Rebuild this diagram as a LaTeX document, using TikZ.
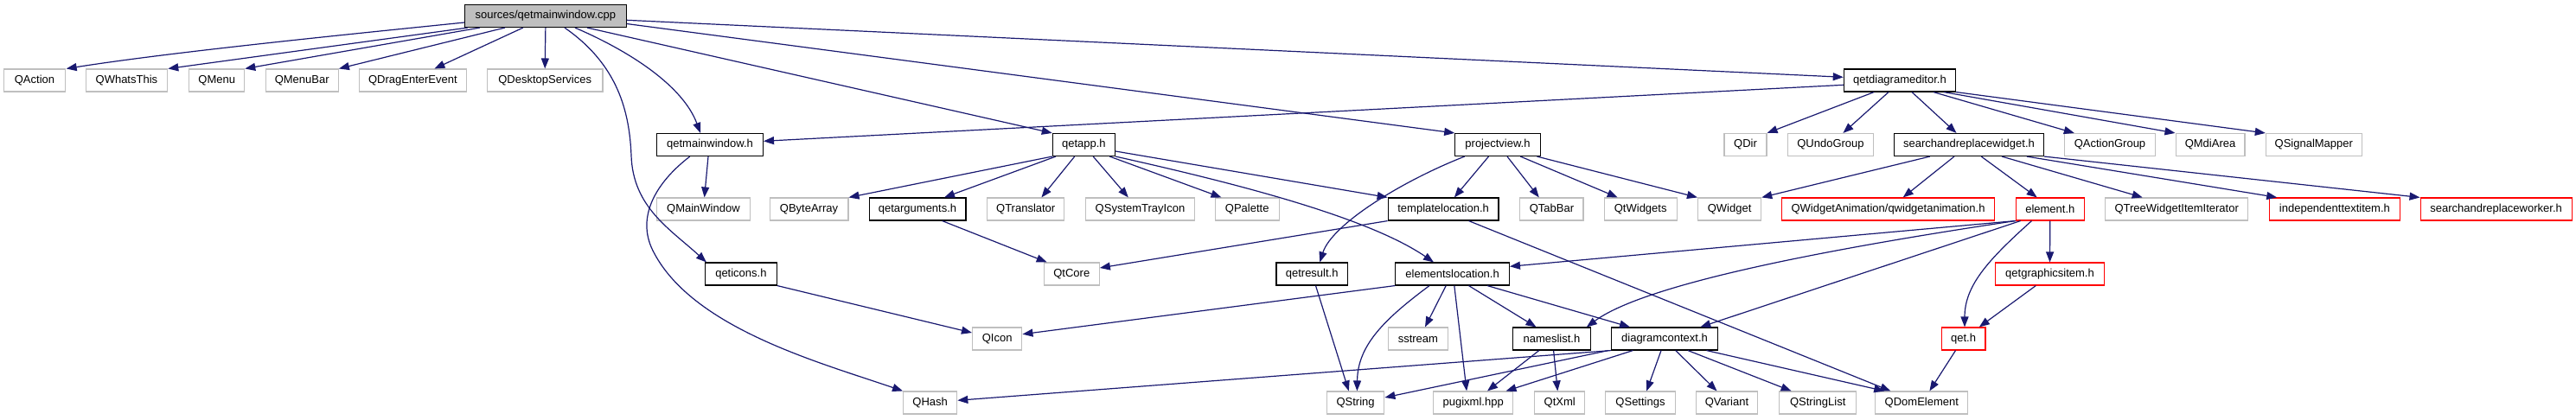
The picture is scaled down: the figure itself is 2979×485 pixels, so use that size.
\documentclass[tikz,border=0pt]{standalone}
\usepackage{fontspec}
\setmainfont{Liberation Sans}
\usetikzlibrary{arrows.meta}
\definecolor{edgec}{HTML}{191970}
\definecolor{grayb}{HTML}{BFBFBF}
\definecolor{redb}{HTML}{FF0000}
\begin{document}
\begin{tikzpicture}[x=1pt,y=-1pt,
  font=\fontsize{13}{15}\selectfont,
  box/.style={draw, line width=1.1pt, inner sep=0pt, minimum height=26pt, anchor=center, fill=white},
  ext/.style={box, draw=grayb},
  doc/.style={box, draw=black},
  trunc/.style={box, draw=redb},
  rootbox/.style={box, draw=black, fill=grayb},
  e/.style={draw=edgec, line width=1.2pt, -{Triangle[length=12pt,width=9pt]}}]
\useasboundingbox (0,0) rectangle (2979,485);
% row 0
\node[rootbox, minimum width=186.6] (root) at (630.9,18.5) {sources/qetmainwindow.cpp};
% row 1
\node[ext, minimum width=70.3] (QAction) at (40,93) {QAction};
\node[ext, minimum width=94.7] (QWhatsThis) at (146.4,93) {QWhatsThis};
\node[ext, minimum width=64.1] (QMenu) at (250.7,93) {QMenu};
\node[ext, minimum width=84.3] (QMenuBar) at (349.2,93) {QMenuBar};
\node[ext, minimum width=124.3] (QDragEnterEvent) at (477.4,93) {QDragEnterEvent};
\node[ext, minimum width=133.5] (QDesktopServices) at (630.2,93) {QDesktopServices};
\node[doc, minimum width=129.2] (qde) at (2196.9,93) {qetdiagrameditor.h};
% row 2
\node[doc, minimum width=123] (qmw) at (821,167.5) {qetmainwindow.h};
\node[doc, minimum width=72.2] (qetapp) at (1253.4,167.5) {qetapp.h};
\node[doc, minimum width=98.5] (pv) at (1732,167.5) {projectview.h};
\node[ext, minimum width=49] (QDir) at (2018.5,167.5) {QDir};
\node[ext, minimum width=98.6] (QUndoGroup) at (2117,167.5) {QUndoGroup};
\node[doc, minimum width=172.7] (sarw) at (2277,167.5) {searchandreplacewidget.h};
\node[ext, minimum width=104.3] (QActionGroup) at (2440,167.5) {QActionGroup};
\node[ext, minimum width=79.9] (QMdiArea) at (2556,167.5) {QMdiArea};
\node[ext, minimum width=110.9] (QSignalMapper) at (2675.8,167.5) {QSignalMapper};
% row 3
\node[ext, minimum width=107.6] (QMainWindow) at (813.4,242) {QMainWindow};
\node[ext, minimum width=90.9] (QByteArray) at (935.5,242) {QByteArray};
\node[doc, minimum width=111.9] (qargs) at (1061,242) {qetarguments.h};
\node[ext, minimum width=89] (QTranslator) at (1186.2,242) {QTranslator};
\node[ext, minimum width=125.8] (QSystemTrayIcon) at (1318.5,242) {QSystemTrayIcon};
\node[ext, minimum width=73.7] (QPalette) at (1442.2,242) {QPalette};
\node[doc, minimum width=127.8] (tl) at (1669.1,242) {templatelocation.h};
\node[ext, minimum width=73.2] (QTabBar) at (1794.4,242) {QTabBar};
\node[ext, minimum width=83.7] (QtWidgets) at (1897.2,242) {QtWidgets};
\node[ext, minimum width=73.2] (QWidget) at (2000.1,242) {QWidget};
\node[trunc, minimum width=245.9] (qwa) at (2183.5,242) {QWidgetAnimation/qwidgetanimation.h};
\node[trunc, minimum width=78.9] (element) at (2370.8,242) {element.h};
\node[ext, minimum width=165] (qtwii) at (2517.2,242) {QTreeWidgetItemIterator};
\node[trunc, minimum width=150.6] (iti) at (2699.9,242) {independenttextitem.h};
\node[trunc, minimum width=175.1] (sarwk) at (2886.6,242) {searchandreplaceworker.h};
% row 4
\node[doc, minimum width=82.8] (qeticons) at (856.9,317) {qeticons.h};
\node[ext, minimum width=64.1] (QtCore) at (1239.3,317) {QtCore};
\node[doc, minimum width=82.4] (qetresult) at (1517.2,317) {qetresult.h};
\node[doc, minimum width=131.6] (el) at (1679.6,317) {elementslocation.h};
\node[trunc, minimum width=125.3] (qgi) at (2370.5,317) {qetgraphicsitem.h};
% row 5
\node[ext, minimum width=57.4] (QIcon) at (1153.2,392) {QIcon};
\node[ext, minimum width=69.4] (sstream) at (1639.9,392) {sstream};
\node[doc, minimum width=89.4] (nl) at (1794.4,392) {nameslist.h};
\node[doc, minimum width=122.9] (dc) at (1925,392) {diagramcontext.h};
\node[trunc, minimum width=50.7] (qet) at (2270.6,392) {qet.h};
% row 6
\node[ext, minimum width=62.2] (QHash) at (1075.7,466) {QHash};
\node[ext, minimum width=66.5] (QString) at (1567.6,466) {QString};
\node[ext, minimum width=91.9] (pugixml) at (1703.7,466) {pugixml.hpp};
\node[ext, minimum width=58.4] (QtXml) at (1803.7,466) {QtXml};
\node[ext, minimum width=80.4] (QSettings) at (1897,466) {QSettings};
\node[ext, minimum width=71.7] (QVariant) at (1997,466) {QVariant};
\node[ext, minimum width=89] (QStringList) at (2102.2,466) {QStringList};
\node[ext, minimum width=107.2] (QDomElement) at (2222.3,466) {QDomElement};

% edges from root
\draw[e] ([yshift=-7.5]root.west) .. controls (400,40) and (200,60) .. ([xshift=1]QAction.north east);
\draw[e] ([xshift=-90]root.south) -- (QWhatsThis.north east);
\draw[e] ([xshift=-76]root.south) -- (QMenu.north east);
\draw[e] ([xshift=-47]root.south) -- (QMenuBar.north east);
\draw[e] ([xshift=-26]root.south) -- ([xshift=25]QDragEnterEvent.north);
\draw[e] (root.south) -- (QDesktopServices.north);
\draw[e] ([xshift=22]root.south) .. controls (715,75) and (728,130) .. (730,180) .. controls (732,240) and (775,265) .. ([xshift=-40]qeticons.north);
\draw[e] ([xshift=34]root.south) .. controls (730,60) and (790,100) .. ([xshift=-11]qmw.north);
\draw[e] ([xshift=48]root.south) -- (qetapp.north west);
\draw[e] ([yshift=-9]root.east) -- (pv.north west);
\draw[e] ([yshift=-4.8]root.east) -- ([yshift=3.7]qde.west);
% qetdiagrameditor.h
\draw[e] ([yshift=-5.3]qde.west) -- ([yshift=4.2]qmw.east);
\draw[e] ([xshift=-29.7]qde.south) -- (QDir.north east);
\draw[e] ([xshift=-12.9]qde.south) -- ([xshift=14.4]QUndoGroup.north);
\draw[e] ([xshift=14.1]qde.south) -- ([xshift=-14.5]sarw.north);
\draw[e] ([xshift=39]qde.south) -- ([xshift=-41.2]QActionGroup.north);
\draw[e] ([xshift=51]qde.south) -- (QMdiArea.north west);
\draw[e] (qde.south east) -- (QSignalMapper.north west);
% qetmainwindow.h
\draw[e] ([xshift=-2]qmw.south) -- ([xshift=1.2]QMainWindow.north);
\draw[e] ([xshift=-23.2]qmw.south) .. controls (760,210) and (735,250) .. (755,290) .. controls (800,380) and (950,420) .. (QHash.north west);
% qetapp.h
\draw[e] (qetapp.south west) -- (QByteArray.north east);
\draw[e] ([xshift=-32.4]qetapp.south) -- ([xshift=31]qargs.north);
\draw[e] ([xshift=-10.7]qetapp.south) -- ([xshift=18.2]QTranslator.north);
\draw[e] ([xshift=10.8]qetapp.south) -- ([xshift=-13.7]QSystemTrayIcon.north);
\draw[e] ([xshift=29.9]qetapp.south) -- ([xshift=-29.7]QPalette.north);
\draw[e] ([yshift=-7.5]qetapp.east) -- (tl.north west);
\draw[e] (qetapp.south east) .. controls (1420,210) and (1580,250) .. ([xshift=-21.6]el.north);
% qetarguments.h, templatelocation.h, qeticons.h
\draw[e] ([xshift=28.6]qargs.south) -- ([xshift=4]QtCore.north west);
\draw[e] (tl.south west) -- ([yshift=7]QtCore.east);
\draw[e] ([xshift=29.4]tl.south) -- ([xshift=-35.9]QDomElement.north);
\draw[e] (qeticons.south east) -- ([yshift=7]QIcon.west);
% projectview.h
\draw[e] ([xshift=-38.3]pv.south) .. controls (1620,210) and (1540,260) .. ([xshift=9.1]qetresult.north);
\draw[e] ([xshift=-10.5]pv.south) -- ([xshift=12.7]tl.north);
\draw[e] ([xshift=11]pv.south) -- ([xshift=-14.6]QTabBar.north);
\draw[e] ([xshift=26.3]pv.south) -- ([xshift=-26.5]QtWidgets.north);
\draw[e] ([xshift=45.4]pv.south) -- (QWidget.north west);
% searchandreplacewidget.h
\draw[e] ([xshift=-45.2]sarw.south) -- (QWidget.north east);
\draw[e] ([xshift=-17]sarw.south) -- ([xshift=17.2]qwa.north);
\draw[e] ([xshift=14.2]sarw.south) -- ([xshift=-15.1]element.north);
\draw[e] ([xshift=38]sarw.south) -- ([xshift=-39.5]qtwii.north);
\draw[e] ([xshift=66.8]sarw.south) -- ([xshift=-66.7]iti.north);
\draw[e] (sarw.south east) -- (sarwk.north west);
% element.h
\draw[e] (element.south) -- (qgi.north);
\draw[e] ([xshift=-21.3]element.south) .. controls (2300,300) and (2272,330) .. ([xshift=1.4]qet.north);
\draw[e] (element.south west) -- ([yshift=8.7]el.east);
\draw[e] (element.south west) .. controls (2100,290) and (1900,330) .. ([xshift=40.4]nl.north);
\draw[e] ([xshift=-34.2]element.south) -- ([xshift=41.3]dc.north);
\draw[e] ([xshift=-16.2]qgi.south) -- ([xshift=18.2]qet.north);
\draw[e] ([xshift=-9.1]qet.south) -- ([xshift=9.1]QDomElement.north);
% qetresult.h, elementslocation.h
\draw[e] ([xshift=4.3]qetresult.south) -- ([xshift=-7.8]QString.north);
\draw[e] (el.south west) -- ([yshift=5.3]QIcon.east);
\draw[e] ([xshift=-26.6]el.south) .. controls (1600,370) and (1570,400) .. ([xshift=1.8]QString.north);
\draw[e] ([xshift=-7.4]el.south) -- ([xshift=8.1]sstream.north);
\draw[e] ([xshift=2.2]el.south) -- ([xshift=-7.6]pugixml.north);
\draw[e] ([xshift=18.9]el.south) -- ([xshift=-17.9]nl.north);
\draw[e] ([xshift=40.4]el.south) -- ([xshift=-40]dc.north);
% nameslist.h
\draw[e] ([xshift=-14.6]nl.south) -- ([xshift=16.3]pugixml.north);
\draw[e] ([xshift=2.2]nl.south) -- ([xshift=-2.4]QtXml.north);
% diagramcontext.h
\draw[e] (dc.south west) -- ([yshift=2.7]QHash.east);
\draw[e] ([xshift=-3]dc.south west) -- ([yshift=6]QString.east);
\draw[e] ([xshift=-36.6]dc.south) -- ([xshift=37.8]pugixml.north);
\draw[e] ([xshift=-4]dc.south) -- ([xshift=7.2]QSettings.north);
\draw[e] ([xshift=12.7]dc.south) -- ([xshift=-11.5]QVariant.north);
\draw[e] ([xshift=27]dc.south) -- ([xshift=-30.6]QStringList.north);
\draw[e] ([xshift=48.5]dc.south) -- ([xshift=-43.1]QDomElement.north);
\end{tikzpicture}
\end{document}
